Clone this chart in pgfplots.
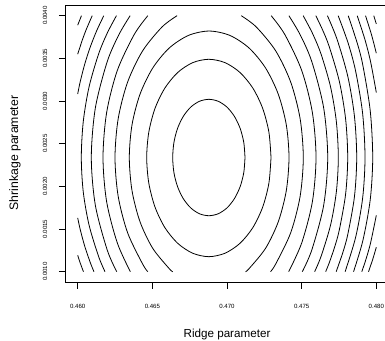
\documentclass[border=0pt]{standalone}
\usepackage{fontspec}
\setmainfont{Liberation Sans}
\usepackage{pgfplots}
\pgfplotsset{compat=1.18}
\begin{document}
\begin{tikzpicture}
\begin{axis}[
  at={(0,0)}, anchor=south west,
  scale only axis, width=322.5bp, height=276.5bp,
  xmin=0.4592, xmax=0.4808, ymin=0.00088, ymax=0.00412,
  axis line style={line width=0.8bp},
  tick align=outside, tick pos=left, major tick length=7bp,
  every tick/.style={black, line width=0.8bp},
  xtick={0.46,0.465,0.47,0.475,0.48},
  xticklabels={0.460,0.465,0.470,0.475,0.480},
  ytick={0.001,0.0015,0.002,0.0025,0.003,0.0035,0.004},
  yticklabels={0.0010,0.0015,0.0020,0.0025,0.0030,0.0035,0.0040},
  scaled ticks=false,
  xticklabel style={font=\fontsize{6.1}{7}\selectfont, anchor=center, yshift=-17.7bp},
  yticklabel style={font=\fontsize{6.1}{7}\selectfont, xshift=-13.8bp, rotate=90, anchor=center},
  xlabel={Ridge parameter}, ylabel={Shrinkage parameter},
  every axis x label/.style={at={(axis description cs:0.5,-0.189)}, anchor=center, font=\fontsize{11.7}{13}\selectfont},
  every axis y label/.style={at={(axis description cs:-0.1575,0.4663)}, rotate=90, anchor=center, font=\fontsize{12.3}{14}\selectfont},
]
% k=0
\addplot[black, line width=0.8bp, smooth] coordinates {
(0.471205,0.002338)(0.471123,0.002515)(0.470881,0.002679)(0.470496,0.002820)(0.469995,0.002929)(0.469411,0.002997)
(0.468784,0.003020)(0.468157,0.002997)(0.467573,0.002929)(0.467072,0.002820)(0.466687,0.002679)(0.466445,0.002515)
(0.466363,0.002338)(0.466445,0.002161)(0.466687,0.001997)(0.467072,0.001856)(0.467573,0.001747)(0.468157,0.001679)
(0.468784,0.001656)(0.469411,0.001679)(0.469995,0.001747)(0.470496,0.001856)(0.470881,0.001997)(0.471123,0.002161)
(0.471205,0.002338)};
% k=1
\addplot[black, line width=0.8bp, smooth] coordinates {
(0.472947,0.002338)(0.472805,0.002636)(0.472389,0.002914)(0.471728,0.003152)(0.470866,0.003335)(0.469861,0.003450)
(0.468784,0.003489)(0.467707,0.003450)(0.466702,0.003335)(0.465840,0.003152)(0.465179,0.002914)(0.464763,0.002636)
(0.464621,0.002338)(0.464763,0.002037)(0.465179,0.001757)(0.465840,0.001516)(0.466702,0.001332)(0.467707,0.001216)
(0.468784,0.001176)(0.469861,0.001216)(0.470866,0.001332)(0.471728,0.001516)(0.472389,0.001757)(0.472805,0.002037)
(0.472947,0.002338)};
% k=2
\addplot[black, line width=0.8bp, smooth] coordinates {
(0.466368,0.001000)(0.466130,0.001036)(0.465022,0.001275)(0.464172,0.001586)(0.463638,0.001949)(0.463456,0.002338)
(0.463638,0.002722)(0.464172,0.003079)(0.465022,0.003386)(0.466130,0.003621)(0.467420,0.003769)(0.468804,0.003820)
(0.470188,0.003769)(0.471478,0.003621)(0.472586,0.003386)(0.473436,0.003079)(0.473970,0.002722)(0.474152,0.002338)
(0.473970,0.001949)(0.473436,0.001586)(0.472586,0.001275)(0.471478,0.001036)(0.471240,0.001000)};
% k=3
\addplot[black, line width=0.8bp, smooth] coordinates {
(0.464695,0.001000)(0.464345,0.001091)(0.463343,0.001456)(0.462713,0.001881)(0.462498,0.002338)
(0.462713,0.002795)(0.463343,0.003222)(0.464345,0.003587)(0.465651,0.003868)(0.466657,0.004000)};
\addplot[black, line width=0.8bp, smooth] coordinates {
(0.472913,0.001000)(0.473263,0.001091)(0.474265,0.001456)(0.474895,0.001881)(0.475110,0.002338)
(0.474895,0.002795)(0.474265,0.003222)(0.473263,0.003587)(0.471957,0.003868)(0.470951,0.004000)};
% k=4
\addplot[black, line width=0.8bp, smooth] coordinates {
(0.463527,0.001000)(0.462651,0.001338)(0.461938,0.001820)(0.461695,0.002338)
(0.461938,0.002865)(0.462651,0.003357)(0.463784,0.003779)(0.464699,0.004000)};
\addplot[black, line width=0.8bp, smooth] coordinates {
(0.474129,0.001000)(0.475005,0.001338)(0.475718,0.001820)(0.475961,0.002338)
(0.475718,0.002865)(0.475005,0.003357)(0.473872,0.003779)(0.472957,0.004000)};
% k=5
\addplot[black, line width=0.8bp, smooth] coordinates {
(0.462612,0.001000)(0.461972,0.001257)(0.461181,0.001779)(0.460911,0.002338)
(0.461181,0.002918)(0.461972,0.003459)(0.462763,0.003779)(0.463513,0.004000)};
\addplot[black, line width=0.8bp, smooth] coordinates {
(0.475044,0.001000)(0.475684,0.001257)(0.476475,0.001779)(0.476745,0.002338)
(0.476475,0.002918)(0.475684,0.003459)(0.474893,0.003779)(0.474143,0.004000)};
% k=6
\addplot[black, line width=0.8bp, smooth] coordinates {
(0.461828,0.001000)(0.461394,0.001181)(0.460760,0.001547)(0.460372,0.001936)(0.460241,0.002338)
(0.460372,0.002758)(0.460760,0.003165)(0.461394,0.003548)(0.461974,0.003794)(0.462595,0.004000)};
\addplot[black, line width=0.8bp, smooth] coordinates {
(0.475868,0.001000)(0.476302,0.001181)(0.476936,0.001547)(0.477324,0.001936)(0.477455,0.002338)
(0.477324,0.002758)(0.476936,0.003165)(0.476302,0.003548)(0.475722,0.003794)(0.475101,0.004000)};
% k=7
\addplot[black, line width=0.8bp, smooth] coordinates {
(0.460000,0.003082)(0.460169,0.003227)(0.460477,0.003436)(0.460849,0.003637)(0.461282,0.003828)(0.461748,0.004000)};
\addplot[black, line width=0.8bp, smooth] coordinates {
(0.460000,0.001631)(0.460169,0.001494)(0.460477,0.001295)(0.460849,0.001104)(0.461089,0.001000)};
\addplot[black, line width=0.8bp, smooth] coordinates {
(0.476607,0.001000)(0.476847,0.001104)(0.477219,0.001295)(0.477527,0.001494)(0.477944,0.001910)(0.478084,0.002338)
(0.477944,0.002789)(0.477527,0.003227)(0.476847,0.003637)(0.476414,0.003828)(0.475948,0.004000)};
% k=8
\addplot[black, line width=0.8bp, smooth] coordinates {
(0.460000,0.003549)(0.460327,0.003724)(0.460596,0.003848)(0.460972,0.004000)};
\addplot[black, line width=0.8bp, smooth] coordinates {
(0.460000,0.001192)(0.460161,0.001106)(0.460385,0.001000)};
\addplot[black, line width=0.8bp, smooth] coordinates {
(0.477311,0.001000)(0.477765,0.001229)(0.478094,0.001441)(0.478537,0.001882)(0.478687,0.002338)
(0.478537,0.002819)(0.478094,0.003286)(0.477369,0.003724)(0.476724,0.004000)};
% k=9
\addplot[black, line width=0.8bp] coordinates {
(0.460000,0.003889)(0.460251,0.004000)};
\addplot[black, line width=0.8bp, smooth] coordinates {
(0.477910,0.001000)(0.478616,0.001404)(0.479085,0.001864)(0.479243,0.002338)
(0.479085,0.002851)(0.478616,0.003349)(0.478110,0.003680)(0.477445,0.004000)};
% k=10
\addplot[black, line width=0.8bp, smooth] coordinates {
(0.478474,0.001000)(0.479101,0.001366)(0.479593,0.001844)(0.479759,0.002338)
(0.479593,0.002885)(0.479101,0.003416)(0.478737,0.003670)(0.478118,0.004000)};
% k=11
\addplot[black, line width=0.8bp, smooth] coordinates {
(0.480000,0.003099)(0.479623,0.003455)(0.479240,0.003719)(0.478721,0.004000)};
\addplot[black, line width=0.8bp, smooth] coordinates {
(0.480000,0.001661)(0.479623,0.001343)(0.479324,0.001155)(0.479028,0.001000)};
% k=12
\addplot[black, line width=0.8bp, smooth] coordinates {
(0.480000,0.003560)(0.479678,0.003777)(0.479276,0.004000)};
\addplot[black, line width=0.8bp, smooth] coordinates {
(0.480000,0.001287)(0.479764,0.001147)(0.479477,0.001000)};
% k=13
\addplot[black, line width=0.8bp] coordinates {
(0.480000,0.003903)(0.479829,0.004000)};
\end{axis}
\pgfresetboundingbox
\path[use as bounding box] (-65.76bp,-59.06bp) rectangle (319.24bp,281.94bp);
\end{tikzpicture}
\end{document}
